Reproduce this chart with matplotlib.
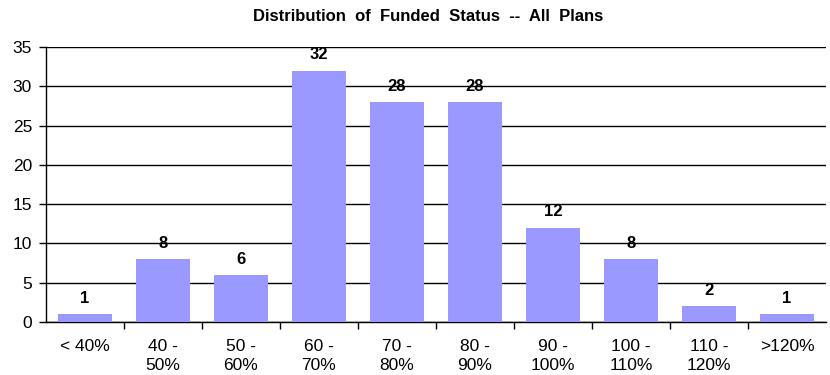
import matplotlib.pyplot as plt
import numpy as np

plt.rcParams['font.family'] = ['Liberation Sans', 'DejaVu Sans']

categories = ['< 40%', '40 -\n50%', '50 -\n60%', '60 -\n70%', '70 -\n80%',
              '80 -\n90%', '90 -\n100%', '100 -\n110%', '110 -\n120%', '>120%']
counts = [1, 8, 6, 32, 28, 28, 12, 8, 2, 1]
yticks = [0, 5, 10, 15, 20, 25, 30, 35]

fig = plt.figure(figsize=(8.3, 3.75), dpi=100)
ax = fig.add_axes([0.0554, 0.1413, 0.9398, 0.7334])

x = np.arange(len(categories))
ax.bar(x, counts, width=0.68, color='#9999FF', zorder=3)

for xi, c in zip(x, counts):
    ax.annotate(str(c), (xi, c), xytext=(0, 6), textcoords='offset points',
                ha='center', va='bottom', fontsize=12, fontweight='bold',
                zorder=4)

ax.set_xlim(-0.5, len(categories) - 0.5)
ax.set_ylim(0, 35)
ax.set_yticks(yticks)
ax.tick_params(axis='y', labelsize=12.5, length=5, width=1, direction='out',
               pad=5)

# category labels centred, tick marks on the boundaries between them
ax.set_xticks(x)
ax.set_xticklabels(categories, fontsize=12.5, linespacing=1.35)
ax.tick_params(axis='x', which='major', length=0, pad=12)
ax.set_xticks(np.arange(0.5, len(categories) - 1), minor=True)
ax.tick_params(axis='x', which='minor', length=5, width=1, direction='out')

ax.grid(axis='y', color='black', linewidth=1, zorder=0)
for side in ['top', 'right']:
    ax.spines[side].set_visible(False)
ax.spines['left'].set_linewidth(1)
ax.spines['bottom'].set_linewidth(1)

fig.text(0.516, 0.957, 'Distribution  of  Funded  Status  --  All  Plans',
         ha='center', va='center', fontsize=12, fontweight='bold')

fig.savefig('out.png', dpi=100)
